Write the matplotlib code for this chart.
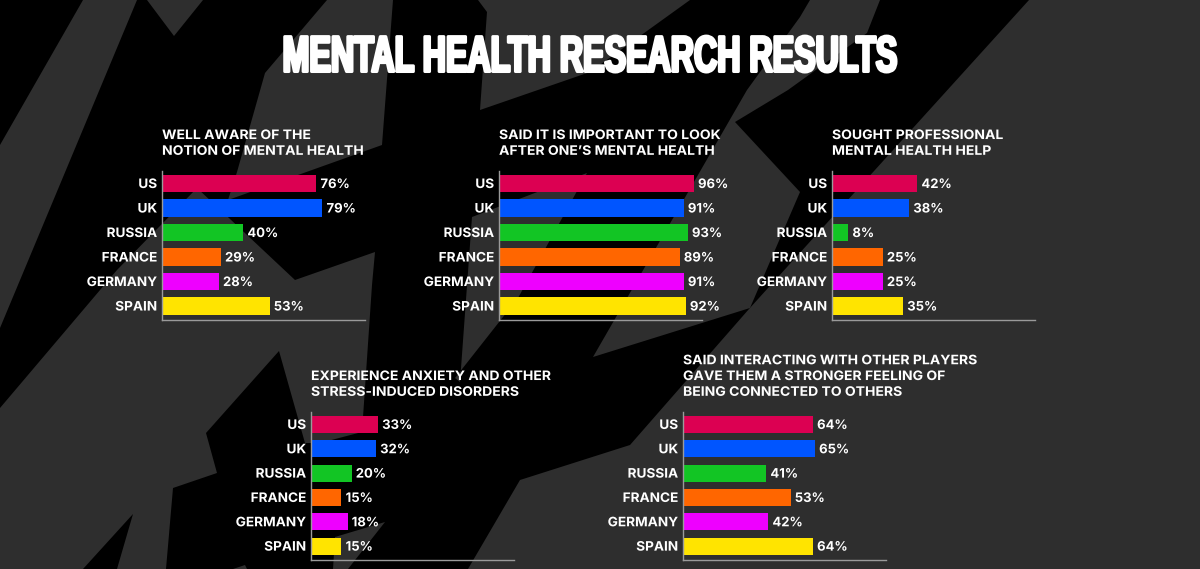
import matplotlib
matplotlib.use("Agg")
import matplotlib.pyplot as plt
import matplotlib.patheffects as pe
from matplotlib.patches import Polygon
from matplotlib.transforms import Affine2D

# Data
countries = ["US", "UK", "RUSSIA", "FRANCE", "GERMANY", "SPAIN"]
bar_colors = ["#dc0052", "#0055ff", "#12c524", "#ff6600", "#ee00ff", "#ffe400"]
well_aware = [76, 79, 40, 29, 28, 53]
important = [96, 91, 93, 89, 91, 92]
sought_help = [42, 38, 8, 25, 25, 35]
anxiety = [33, 32, 20, 15, 18, 15]
connected = [64, 65, 41, 53, 42, 64]

W, H = 1200, 569
BLACK = "#000000"
GRAY = "#2e2e2e"
FONT = "Inter"

# Background shards, in image pixels
shards = [
    [(1029, 0), (1200, 0), (1200, 569), (468, 569), (520, 480), (630, 445), (749, 309)],
    [(810, 0), (880, 0), (867, 33), (788, 90), (735, 122), (800, 192), (750, 308),
     (593, 357), (747, 90), (800, 17)],
    [(478, 0), (690, 0), (590, 72), (480, 110), (487, 12)],
    [(83, 0), (137, 0), (0, 328), (0, 145)],
    [(147, 0), (203, 0), (174, 36)],
    [(327, 0), (393, 0), (382, 145), (228, 200), (237, 172), (265, 73)],
    [(0, 408), (117, 270), (197, 188), (295, 280), (375, 252), (372, 285), (362, 432),
     (320, 443), (305, 443), (279, 351), (206, 433), (217, 473), (173, 488), (166, 569),
     (117, 569), (133, 514), (83, 569), (0, 569)],
    [(472, 217), (587, 173), (518, 298), (455, 378), (460, 382)],
    [(335, 537), (385, 522), (348, 569), (333, 569)],
    [(233, 569), (245, 565), (247, 569)],
]


class Stretch(pe.AbstractPathEffect):
    # scales glyphs in x about the left, centre or right of the text, optional stroke to fatten
    def __init__(self, sx, anchor="left", stroke=0):
        super().__init__()
        self.sx = sx
        self.anchor = anchor
        self.stroke = stroke

    def draw_path(self, renderer, gc, tpath, affine, rgbFace=None):
        ext = tpath.get_extents()
        x0 = {"left": 0, "center": (ext.x0 + ext.x1) / 2, "right": ext.x1}[self.anchor]
        tr = Affine2D().translate(-x0, 0).scale(self.sx, 1).translate(x0, 0) + affine
        gc0 = renderer.new_gc()
        gc0.copy_properties(gc)
        if self.stroke:
            gc0.set_foreground(rgbFace)
            gc0.set_linewidth(self.stroke)
        renderer.draw_path(gc0, tpath, tr, rgbFace)
        gc0.restore()


fig = plt.figure(figsize=(W / 100, H / 100), dpi=100, facecolor=BLACK)
bg = fig.add_axes([0, 0, 1, 1])
bg.set_xlim(0, W)
bg.set_ylim(H, 0)
bg.axis("off")
for pts in shards:
    bg.add_patch(Polygon(pts, closed=True, facecolor=GRAY, edgecolor="none"))

fig.text(590 / W, 1 - 71.5 / H, "MENTAL HEALTH RESEARCH RESULTS", ha="center", va="baseline",
         color="white", fontsize=36.5, fontweight="bold", family="Liberation Sans",
         path_effects=[Stretch(0.635, anchor="center", stroke=2.2)])


def panel(left, top, bottom, values, title):
    ax = fig.add_axes([left / W, 1 - bottom / H, 203 / W, (bottom - top) / H])
    ax.patch.set_alpha(0)
    bars = ax.barh(countries, values, height=0.7, color=bar_colors)
    ax.set_xlim(0, 100)
    ax.set_ylim(5.57, -0.51)
    ax.set_xticks([])
    ax.tick_params(axis="y", length=0, pad=3.5, labelcolor="white")
    for lab in ax.get_yticklabels():
        lab.set_fontsize(9.4)
        lab.set_fontweight("bold")
        lab.set_family(FONT)
        lab.set_path_effects([Stretch(1.04, anchor="right")])
    for side in ["top", "right"]:
        ax.spines[side].set_visible(False)
    for side in ["left", "bottom"]:
        ax.spines[side].set_color("#9a9a9a")
        ax.spines[side].set_linewidth(1)
    labels = ax.bar_label(bars, fmt="%g%%", padding=3, color="white", fontsize=9.4,
                          fontweight="bold", family=FONT)
    for t in labels:
        t.set_va("center_baseline")
        t.set_path_effects([Stretch(1.0)])
    ax.annotate(title, xy=(0, 1), xycoords="axes fraction", xytext=(0, 9.5),
                textcoords="offset points", ha="left", va="bottom", color="white",
                fontsize=9.4, fontweight="bold", family=FONT, linespacing=1.42,
                path_effects=[Stretch(1.07)])


panel(162, 171, 320, well_aware, "WELL AWARE OF THE\nNOTION OF MENTAL HEALTH")
panel(499, 171, 320, important, "SAID IT IS IMPORTANT TO LOOK\nAFTER ONE\u2019S MENTAL HEALTH")
panel(832, 171, 320, sought_help, "SOUGHT PROFESSIONAL\nMENTAL HEALTH HELP")
panel(311, 412, 560, anxiety, "EXPERIENCE ANXIETY AND OTHER\nSTRESS-INDUCED DISORDERS")
panel(683, 412, 560, connected,
      "SAID INTERACTING WITH OTHER PLAYERS\nGAVE THEM A STRONGER FEELING OF\nBEING CONNECTED TO OTHERS")

fig.savefig("out.png", dpi=100, facecolor=fig.get_facecolor())
